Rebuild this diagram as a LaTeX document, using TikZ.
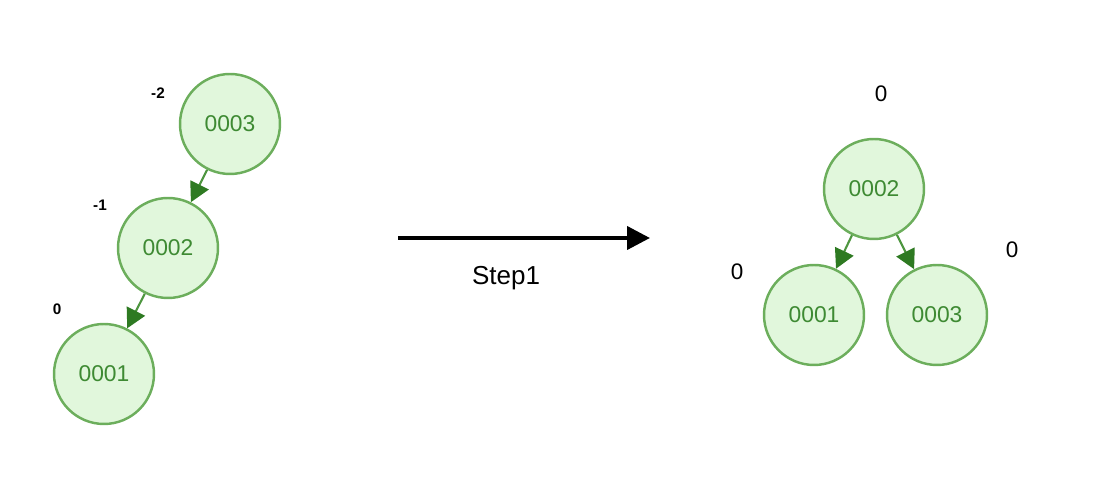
\documentclass[tikz,border=0pt]{standalone}
\usepackage{fontspec}
\setmainfont{Liberation Sans}
\usetikzlibrary{arrows.meta}

\definecolor{nodefill}{HTML}{E1F7DC}
\definecolor{nodeline}{HTML}{6CAE5C}
\definecolor{nodetext}{HTML}{3E8A33}
\definecolor{edgeline}{HTML}{4E9640}
\definecolor{edgehead}{HTML}{2E7A22}

\begin{document}
\begin{tikzpicture}[
    x=0.02cm, y=-0.02cm,
    treenode/.style={circle, draw=nodeline, fill=nodefill, line width=1.4pt,
        minimum size=2cm, inner sep=0pt, text=nodetext, font=\fontsize{13}{13}\selectfont},
    treeedge/.style={draw=edgeline, line width=1.2pt,
        -{Triangle[length=11pt, width=11.5pt, color=edgehead]}},
    smallbal/.style={font=\fontsize{8.7}{9}\selectfont\bfseries},
    bigbal/.style={font=\fontsize{12.8}{13}\selectfont}
]
\useasboundingbox (0,0) rectangle (1102,502);

% Unbalanced tree (left)
\node[treenode] (L3) at (230,124) {0003};
\node[treenode] (L2) at (168,248) {0002};
\node[treenode] (L1) at (104,374) {0001};
\draw[treeedge] (L3) -- (L2);
\draw[treeedge] (L2) -- (L1);

% Balance factors (left)
\node[smallbal] (bL3) at (158,93) {-2};
\node[smallbal] (bL2) at (100,205) {-1};
\node[smallbal] (bL1) at (57,309) {0};

% Rotation step
\coordinate (s) at (398,238);
\coordinate (t) at (650,238);
\draw[line width=2.3pt, -{Triangle[length=13pt, width=13pt]}] (s) -- (t);
\node[font=\fontsize{14.8}{15}\selectfont] (step) at (506,278) {Step1};

% Balanced tree (right)
\node[treenode] (R2) at (874,189) {0002};
\node[treenode] (R1) at (814,315) {0001};
\node[treenode] (R3) at (937,315) {0003};
\draw[treeedge] (R2) -- (R1);
\draw[treeedge] (R2) -- (R3);

% Balance factors (right)
\node[bigbal] (bR2) at (881,94) {0};
\node[bigbal] (bR1) at (737,272) {0};
\node[bigbal] (bR3) at (1012,250) {0};

\end{tikzpicture}
\end{document}
